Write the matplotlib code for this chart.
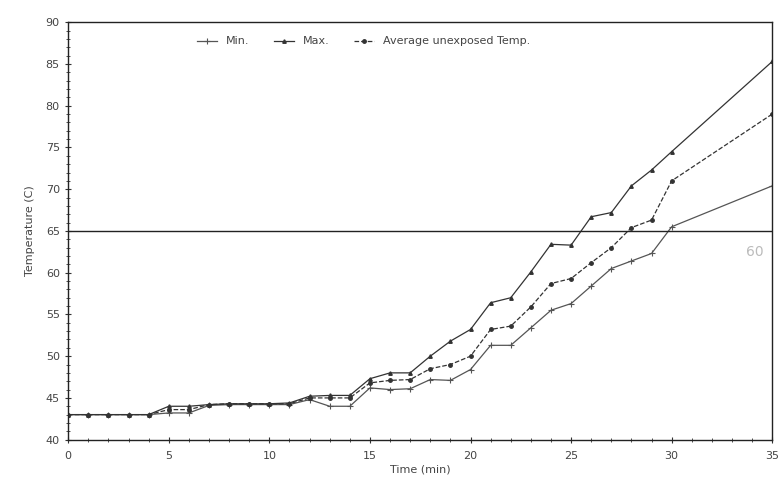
import matplotlib.pyplot as plt
from matplotlib.ticker import MultipleLocator

# time (min); readings every minute up to 30, then the end point at 35
time_min = [0, 1, 2, 3, 4, 5, 6, 7, 8, 9, 10, 11, 12, 13, 14, 15, 16, 17,
            18, 19, 20, 21, 22, 23, 24, 25, 26, 27, 28, 29, 30, 35]

temp_min = [43.0, 43.0, 43.0, 43.0, 43.0, 43.2, 43.2, 44.1, 44.2, 44.2,
            44.2, 44.2, 44.8, 44.0, 44.0, 46.2, 46.0, 46.1, 47.2, 47.1,
            48.4, 51.3, 51.3, 53.4, 55.5, 56.3, 58.4, 60.5, 61.4, 62.3,
            65.5, 70.4]

temp_max = [43.0, 43.0, 43.0, 43.0, 43.0, 44.0, 44.0, 44.2, 44.3, 44.3,
            44.3, 44.4, 45.2, 45.3, 45.3, 47.3, 48.0, 48.0, 50.0, 51.8,
            53.2, 56.4, 57.0, 60.1, 63.4, 63.3, 66.7, 67.2, 70.4, 72.3,
            74.5, 85.3]

temp_avg = [43.0, 43.0, 43.0, 43.0, 43.0, 43.6, 43.6, 44.2, 44.3, 44.3,
            44.3, 44.3, 45.0, 45.0, 45.0, 46.8, 47.1, 47.2, 48.5, 49.0,
            50.0, 53.2, 53.6, 55.9, 58.7, 59.3, 61.2, 63.0, 65.4, 66.3,
            71.0, 79.0]

limit_temp = 65

fig = plt.figure(figsize=(7.84, 4.94), dpi=100)
ax = fig.add_axes([0.087, 0.11, 0.898, 0.845])

ax.plot(time_min, temp_min, '-', color='#555555', lw=0.9,
        marker='+', ms=4, mew=0.8, label='Min.')
ax.plot(time_min, temp_max, '-', color='#333333', lw=0.9,
        marker='^', ms=2.5, label='Max.')
ax.plot(time_min, temp_avg, '--', color='#333333', lw=0.9,
        marker='o', ms=2.5, label='Average unexposed Temp.')

ax.axhline(limit_temp, color='#222222', lw=1.0)

ax.set_xlim(0, 35)
ax.set_ylim(40, 90)
ax.xaxis.set_major_locator(MultipleLocator(5))
ax.yaxis.set_major_locator(MultipleLocator(5))
ax.xaxis.set_minor_locator(MultipleLocator(1))
ax.yaxis.set_minor_locator(MultipleLocator(1))
ax.tick_params(which='both', direction='inout', colors='#333333',
               labelsize=8, labelcolor='#444444')
ax.tick_params(which='major', length=5)
ax.tick_params(which='minor', length=2.5)
ax.tick_params(axis='x', pad=6)

for side in ['left', 'bottom', 'top', 'right']:
    ax.spines[side].set_color('#222222')
    ax.spines[side].set_linewidth(1.0)

ax.set_xlabel('Time (min)', fontsize=8, color='#444444', labelpad=2)
ax.set_ylabel('Temperature (C)', fontsize=8, color='#444444', labelpad=8)

ax.legend(loc='upper center', bbox_to_anchor=(0.42, 0.99), ncol=3,
          frameon=False, fontsize=8, handlelength=1.8, columnspacing=2.2,
          labelcolor='#444444')

# faint hand-written note in the scan
ax.text(33.7, 62.0, '60', color='#bbbbbb', fontsize=10)

fig.savefig('out.png', dpi=100)
